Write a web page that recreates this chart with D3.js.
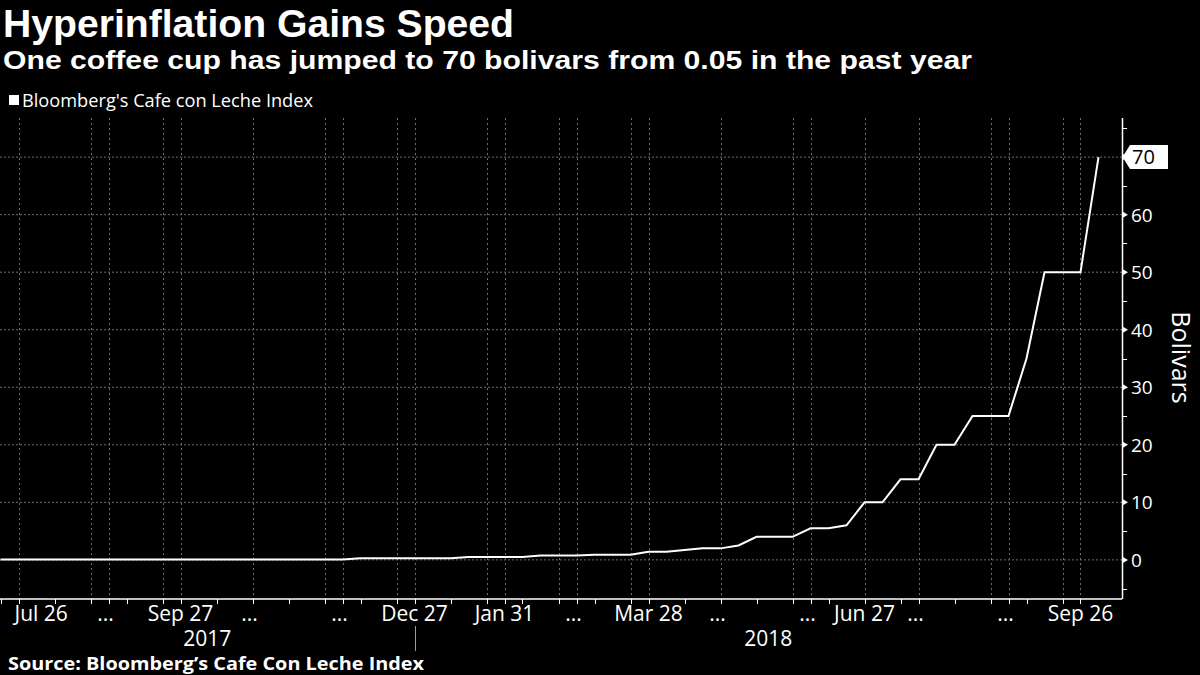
<!DOCTYPE html>
<html>
<head>
<meta charset="utf-8">
<script src="https://cdn.jsdelivr.net/npm/d3@7"></script>
<style>
  html, body { margin: 0; padding: 0; background: #000; }
  svg { display: block; }
</style>
</head>
<body>
<svg id="chart" width="1200" height="675"></svg>
<script>
// ---------------- DATA ----------------
const titleText = "Hyperinflation Gains Speed";
const subtitleText = "One coffee cup has jumped to 70 bolivars from 0.05 in the past year";
const legendText = "Bloomberg's Cafe con Leche Index";
const sourceText = "Source: Bloomberg\u2019s Cafe Con Leche Index";
const yAxisTitle = "Bolivars";

// weekly observations (category axis, one per reading)
const dates = [
  "2017-07-19","2017-07-26","2017-08-02","2017-08-09","2017-08-16","2017-08-23","2017-08-30",
  "2017-09-06","2017-09-13","2017-09-20","2017-09-27","2017-10-04","2017-10-11","2017-10-18",
  "2017-10-25","2017-11-01","2017-11-08","2017-11-15","2017-11-22","2017-11-29","2017-12-06",
  "2017-12-13","2017-12-20","2017-12-27","2018-01-03","2018-01-10","2018-01-17","2018-01-24",
  "2018-01-31","2018-02-07","2018-02-14","2018-02-21","2018-02-28","2018-03-07","2018-03-14",
  "2018-03-21","2018-03-28","2018-04-04","2018-04-11","2018-04-18","2018-04-25","2018-05-02",
  "2018-05-09","2018-05-16","2018-05-23","2018-05-30","2018-06-06","2018-06-20","2018-06-27",
  "2018-07-04","2018-07-18","2018-07-25","2018-08-01","2018-08-08","2018-08-15","2018-08-22",
  "2018-08-29","2018-09-05","2018-09-12","2018-09-19","2018-09-26","2018-10-03"
];
const values = [
  0.05,0.05,0.05,0.05,0.05,0.05,0.05,
  0.05,0.05,0.05,0.05,0.05,0.05,0.05,
  0.05,0.05,0.05,0.05,0.05,0.05,0.3,
  0.3,0.3,0.3,0.3,0.3,0.5,0.5,
  0.5,0.5,0.75,0.75,0.75,0.9,0.9,
  0.9,1.4,1.4,1.7,2,2,2.5,
  4,4,4,5.5,5.5,6,10,
  10,14,14,20,20,25,25,
  25,35,50,50,50,70
];

// x-axis: category indices
const xTickIdx = [0,1,3,5,6,7,9,10,12,14,16,18,19,20,22,23,25,27,28,29,31,32,33,35,36,38,40,42,44,45,46,48,50,51,53,55,56,57,59,60];
const xGridIdx = [1,5,6,9,10,14,18,19,22,23,27,28,31,32,35,36,40,44,45,48,51,55,56,59,60];
const xLabelIdx  = [1,6,10,14,19,23,28,32,36,40,45,48,51,56,60];
const xLabelText = ["Jul 26","...","Sep 27","...","...","Dec 27","Jan 31","...","Mar 28","...","...","Jun 27","...","...","Sep 26"];
const yearNames = ["2017","2018"];
const yearBreakIdx = 23;

const yMajor = [0,10,20,30,40,50,60,70];
const yMinor = [-5,5,15,25,35,45,55,65,75];

// ---------------- LAYOUT ----------------
const W = 1200, H = 675;
const plot = { left: 0, right: 1122, top: 118, bottom: 599 };

const svg = d3.select("#chart");
svg.append("rect").attr("width", W).attr("height", H).attr("fill", "#000");

const x = d3.scaleLinear().domain([0, dates.length - 1]).range([0.5, 1098.5]);
const y = d3.scaleLinear().domain([-6.8, 76.8]).range([plot.bottom, plot.top]);

const FONT = "'Open Sans', 'Liberation Sans', sans-serif";
const HEAD_FONT = "'Liberation Sans', Arial, sans-serif";
const gridColor = "#6e6e6e";

// Titles
function fitText(sel, w) {
  sel.attr("textLength", w).attr("lengthAdjust", "spacingAndGlyphs");
}
svg.append("text").attr("x", 3).attr("y", 37)
  .attr("fill", "#fff").attr("font-family", HEAD_FONT).attr("font-weight", 700)
  .attr("font-size", 38).text(titleText).call(fitText, 511);
svg.append("text").attr("x", 3).attr("y", 69)
  .attr("fill", "#fff").attr("font-family", HEAD_FONT).attr("font-weight", 700)
  .attr("font-size", 26).text(subtitleText).call(fitText, 969);

// Legend
svg.append("rect").attr("x", 9).attr("y", 95).attr("width", 10).attr("height", 10).attr("fill", "#fff");
svg.append("text").attr("x", 22).attr("y", 107)
  .attr("fill", "#fff").attr("font-family", FONT).attr("font-size", 18)
  .text(legendText).call(fitText, 291);

// Grid
const grid = svg.append("g");
grid.selectAll("line.hg").data(yMajor).enter().append("line")
  .attr("x1", plot.left).attr("x2", plot.right)
  .attr("y1", d => y(d)).attr("y2", d => y(d))
  .attr("stroke", gridColor).attr("stroke-width", 1).attr("stroke-dasharray", "2,2");
grid.selectAll("line.vg").data(xGridIdx).enter().append("line")
  .attr("x1", d => Math.round(x(d)) + 0.5).attr("x2", d => Math.round(x(d)) + 0.5)
  .attr("y1", plot.top).attr("y2", plot.bottom)
  .attr("stroke", gridColor).attr("stroke-width", 1).attr("stroke-dasharray", "2,3");

// Line
const line = d3.line().x((d, i) => x(i)).y(d => y(d));
svg.append("path").datum(values).attr("d", line)
  .attr("fill", "none").attr("stroke", "#fff").attr("stroke-width", 2)
  .attr("stroke-linejoin", "miter");

// X axis
const xa = svg.append("g");
xa.append("line").attr("x1", plot.left).attr("x2", plot.right)
  .attr("y1", plot.bottom).attr("y2", plot.bottom).attr("stroke", "#fff").attr("stroke-width", 1.5);
xa.selectAll("line.t").data(xTickIdx).enter().append("line")
  .attr("x1", d => Math.round(x(d)) + 0.5).attr("x2", d => Math.round(x(d)) + 0.5)
  .attr("y1", plot.bottom).attr("y2", plot.bottom + 5)
  .attr("stroke", "#fff").attr("stroke-width", 1);
xa.selectAll("text.l").data(xLabelIdx).enter().append("text")
  .attr("x", d => x(d)).attr("y", 621)
  .attr("text-anchor", "middle").attr("fill", "#fff")
  .attr("font-family", FONT).attr("font-size", 21)
  .text((d, i) => xLabelText[i])
  .each(function (d, i) {
    const bb = this.getBBox();
    if (bb.x < 12) d3.select(this).attr("x", x(d) + (12.5 - bb.x));
    if (xLabelText[i] === "...") d3.select(this).attr("dx", -3);
  });
// year separator + labels
xa.append("line").attr("x1", Math.round(x(yearBreakIdx)) + 0.5).attr("x2", Math.round(x(yearBreakIdx)) + 0.5)
  .attr("y1", 626).attr("y2", 651).attr("stroke", "#9a9a9a").attr("stroke-width", 1);
const yearCenters = [(plot.left + x(yearBreakIdx)) / 2, (x(yearBreakIdx) + plot.right) / 2];
xa.selectAll("text.y").data(yearNames).enter().append("text")
  .attr("x", (d, i) => yearCenters[i]).attr("y", 646)
  .attr("text-anchor", "middle").attr("fill", "#fff")
  .attr("font-family", FONT).attr("font-size", 21).text(d => d);

// Y axis (right)
const ya = svg.append("g");
ya.append("line").attr("x1", plot.right + 0.5).attr("x2", plot.right + 0.5)
  .attr("y1", plot.top).attr("y2", plot.bottom).attr("stroke", "#fff").attr("stroke-width", 1.5);
ya.selectAll("line.mn").data(yMinor).enter().append("line")
  .attr("x1", plot.right).attr("x2", plot.right + 5)
  .attr("y1", d => Math.round(y(d)) + 0.5).attr("y2", d => Math.round(y(d)) + 0.5)
  .attr("stroke", "#fff").attr("stroke-width", 1);
ya.selectAll("path.mj").data(yMajor).enter().append("path")
  .attr("d", d => { const yy = y(d); return `M${plot.right},${yy - 3.5}L${plot.right + 6},${yy}L${plot.right},${yy + 3.5}Z`; })
  .attr("fill", "#fff");
ya.selectAll("text.yl").data(yMajor.filter(v => v !== values[values.length - 1])).enter().append("text")
  .attr("x", 1131).attr("y", d => y(d)).attr("dy", "0.36em")
  .attr("fill", "#fff").attr("font-family", FONT).attr("font-size", 19).text(d => d);

// last value marker
const lastV = values[values.length - 1];
const ly = y(lastV);
svg.append("path")
  .attr("d", `M${plot.right + 0.5},${ly}L${plot.right + 8},${ly - 12}L${plot.right + 46},${ly - 12}L${plot.right + 46},${ly + 12}L${plot.right + 8},${ly + 12}Z`)
  .attr("fill", "#fff");
svg.append("text").attr("x", 1132).attr("y", ly).attr("dy", "0.36em")
  .attr("fill", "#000").attr("font-family", FONT).attr("font-size", 20).text(lastV);

// Y axis title
svg.append("text")
  .attr("transform", `translate(1172,${(plot.top + plot.bottom) / 2 - 1}) rotate(90)`)
  .attr("text-anchor", "middle").attr("fill", "#fff")
  .attr("font-family", FONT).attr("font-size", 25).text(yAxisTitle);

// Source
svg.append("text").attr("x", 8).attr("y", 670)
  .attr("fill", "#fff").attr("font-family", FONT).attr("font-weight", 700)
  .attr("font-size", 18).text(sourceText).call(fitText, 416);
</script>
</body>
</html>
